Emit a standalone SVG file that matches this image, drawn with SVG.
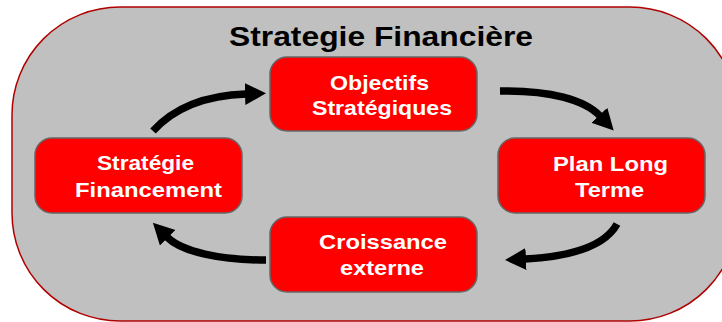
<svg xmlns="http://www.w3.org/2000/svg" width="722" height="322" viewBox="0 0 722 322">
<style>
.node rect{fill:#ff0000;stroke:#666666;stroke-width:1.5}
.lbl{font-family:"Liberation Sans",Arial,sans-serif;font-weight:bold;font-size:21px;fill:#ffffff;text-anchor:middle}
.title{font-family:"Liberation Sans",Arial,sans-serif;font-weight:bold;font-size:27px;fill:#000000;text-anchor:middle}
.conn path{fill:none;stroke:#000000;stroke-width:7.5;stroke-linecap:butt}
</style>
<defs>
<marker id="ah" markerUnits="userSpaceOnUse" markerWidth="24" markerHeight="24" refX="1" refY="11" orient="auto">
<polygon points="0,0 21,11 0,22" fill="#000000"/>
</marker>
</defs>
<rect width="722" height="322" fill="#ffffff"/>
<g id="frame">
<rect x="12" y="7" width="726" height="314" rx="108" ry="108" fill="#c0c0c0" stroke="#b00000" stroke-width="1.5"/>
<text class="title" x="381" y="46" textLength="304" lengthAdjust="spacingAndGlyphs">Strategie Financière</text>
</g>
<g id="conn" class="conn">
<path d="M153,131 Q185,96 246,94" marker-end="url(#ah)"/>
<path d="M500,91 C550,90 585,100 600,116" marker-end="url(#ah)"/>
<path d="M617,224 Q600,255 525,259" marker-end="url(#ah)"/>
<path d="M266,260 C220,260 182,252 167,237" marker-end="url(#ah)"/>
</g>
<g id="objectifs" class="node">
<rect x="270" y="57" width="207" height="74" rx="17"/>
<text class="lbl" x="379.5" y="90" textLength="99" lengthAdjust="spacingAndGlyphs">Objectifs</text>
<text class="lbl" x="382" y="115" textLength="140" lengthAdjust="spacingAndGlyphs">Stratégiques</text>
</g>
<g id="strategie" class="node">
<rect x="35" y="138" width="207" height="75" rx="17"/>
<text class="lbl" x="145.5" y="170" textLength="97" lengthAdjust="spacingAndGlyphs">Stratégie</text>
<text class="lbl" x="148.5" y="197" textLength="147" lengthAdjust="spacingAndGlyphs">Financement</text>
</g>
<g id="plan" class="node">
<rect x="498" y="138" width="207" height="75" rx="17"/>
<text class="lbl" x="610.5" y="171" textLength="115" lengthAdjust="spacingAndGlyphs">Plan Long</text>
<text class="lbl" x="609.5" y="197" textLength="69" lengthAdjust="spacingAndGlyphs">Terme</text>
</g>
<g id="croissance" class="node">
<rect x="270" y="217" width="207" height="75" rx="17"/>
<text class="lbl" x="383" y="249" textLength="128" lengthAdjust="spacingAndGlyphs">Croissance</text>
<text class="lbl" x="382" y="275" textLength="84" lengthAdjust="spacingAndGlyphs">externe</text>
</g>
</svg>
